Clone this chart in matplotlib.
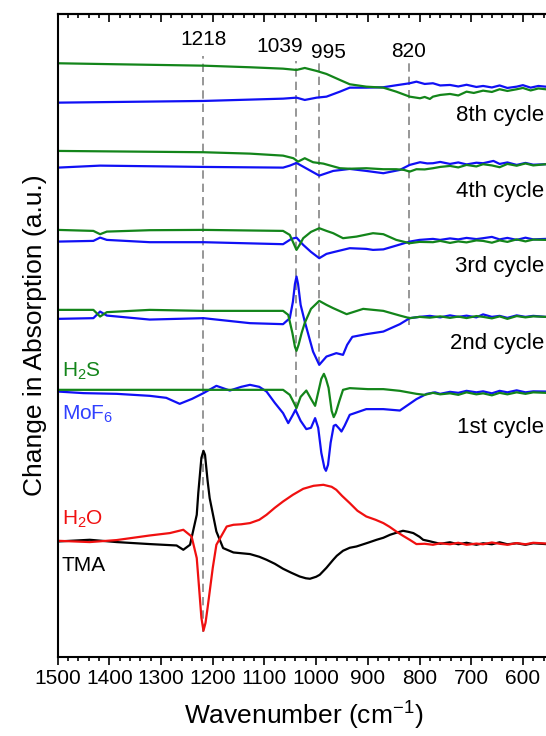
import numpy as np
import matplotlib
matplotlib.use('Agg')
import matplotlib.pyplot as plt
from matplotlib.ticker import MultipleLocator, NullLocator

plt.rcParams['font.family'] = ['Liberation Sans', 'DejaVu Sans']
plt.rcParams['mathtext.default'] = 'regular'

# ---- data (wavenumber in cm-1, change in absorption in a.u.) ----
# 8th cycle
wn_8g = [1500, 1386, 1218, 1128, 1064, 1038, 1022, 999, 980, 954, 935, 903, 870, 845, 819, 799, 790, 780,
         774, 760, 741, 725, 709, 695, 677, 660, 645, 630, 612, 600, 585, 570, 556]
ab_8g = [24.7, 23.7, 22.3, 20.7, 19.3, 18, 20, 17, 14, 8, 3.7, 1.3, 0.3, -3.7, -8.7, -10.3, -9, -11,
         -8.7, -7, -6, -7.5, -3.7, -5, -2.7, -4, -1.3, -3, -1.3, 0, -2.5, -0.5, -1.3]
wn_8b = [1500, 1218, 1064, 1038, 1022, 999, 980, 954, 935, 903, 870, 845, 819, 806, 790, 774, 760, 741,
         725, 709, 690, 677, 660, 645, 630, 612, 600, 585, 570, 556]
ab_8b = [-14.7, -13, -10.7, -9.7, -12, -9.7, -8.7, -3.7, 0.3, 0.3, 0.7, 2.7, 4.7, 6.3, 4, 4.7, 2.5, 3,
         1.5, 3.2, 1, 2, 0.5, 2.5, 0, 1.3, 2.8, 0.3, 2, 1.3]

# 4th cycle
wn_4g = [1500, 1218, 1128, 1064, 1044, 1035, 1022, 1006, 986, 954, 935, 903, 870, 845, 830, 819, 806,
         790, 774, 760, 741, 725, 709, 690, 677, 660, 645, 630, 612, 595, 580, 556]
ab_4g = [13, 11.7, 10.3, 8.3, 5.7, 2.3, 5.7, 1.7, 0.3, -4.3, -4.8, -4.3, -5.3, -5.3, -6, -7.7, -5.3,
         -5.5, -4.3, -3, -2, -3.5, -1, -2.5, -0.3, -1.5, -3.3, 0, -1.8, 0.5, -1.5, -0.3]
wn_4b = [1500, 1418, 1218, 1064, 1051, 1038, 994, 967, 935, 903, 870, 838, 819, 799, 785, 774, 760,
         741, 725, 709, 690, 677, 657, 645, 630, 612, 595, 580, 556]
ab_4b = [-3.7, -1.7, -3, -3.7, -1.7, 1, -11.7, -7, -5, -7, -9.3, -6, -1, 1.7, 0.5, 0.7, 2,
         0, 1.5, -0.5, 1.2, 0.7, 3, 0, 1.5, -1, 1, -0.8, -0.3]

# 3rd cycle
wn_3g = [1500, 1431, 1418, 1405, 1322, 1218, 1064, 1051, 1044, 1038, 1032, 1025, 1010, 994, 980, 967,
         948, 922, 890, 870, 845, 819, 800, 774, 760, 741, 725, 709, 690, 677, 660, 645, 630, 612, 595,
         580, 556]
ab_3g = [10, 9, 5.7, 8.3, 9.7, 10, 9, 5, -3, -10, -5, 1.7, 8, 11.7, 9, 6.7,
         1.7, 3.3, 6.7, 5.7, 0, -3.3, -2, -2.3, -1, -3, -1.5, -2.5, -0.5, -1, -2.8, -0.5, -2, 0.5, -1.5,
         0.3, 0]
wn_3b = [1500, 1431, 1418, 1405, 1322, 1218, 1064, 1048, 1038, 1025, 1010, 994, 980, 967, 935, 903,
         890, 870, 845, 819, 800, 774, 760, 741, 725, 709, 690, 677, 660, 645, 630, 612, 595, 580, 556]
ab_3b = [-1.7, -1, 2.3, 0, -2.3, -2.3, -4.3, 1, 2.3, -5, -12, -18.3, -14, -12.3, -8.3, -9,
         -10, -9.5, -5.7, -1.7, 0, 1, 0, 1.5, 0.5, 2, 0.8, 1.7, 3, 0.5, 2, 0, 2.2, 0.5, 1]

# 2nd cycle
wn_2g = [1500, 1431, 1418, 1405, 1322, 1218, 1064, 1054, 1046, 1041, 1038, 1034, 1028, 1022, 1010, 994,
         980, 967, 941, 909, 870, 838, 819, 800, 780, 760, 741, 725, 709, 690, 677, 660, 645, 630, 612,
         595, 580, 556]
ab_2g = [7, 7, 0.3, 4.7, 7, 6, 6, 2, -16, -30, -34, -28, -16, -6, 8, 16,
         12, 8.7, 2.7, 8, 6, 1.3, -1.3, 0, -0.8, 0.5, -1, 0.3, -1.2, 0.8, 0, -1.5, 0.5, -2, 0.8,
         -0.5, 0.5, 0]
wn_2b = [1500, 1431, 1418, 1405, 1322, 1218, 1128, 1064, 1051, 1045, 1041, 1038, 1035, 1030, 1022, 1006,
         994, 980, 961, 948, 940, 930, 903, 870, 838, 819, 800, 780, 760, 741, 725, 709, 690, 677, 660,
         645, 630, 612, 595, 580, 556]
ab_2b = [-2, -1.3, 5.3, 1.3, -2.7, -1.3, -6.3, -7.3, -1.3, 15, 33, 40.3, 33, 12, -4.7, -34.7,
         -48, -39.7, -36.3, -38, -28, -20, -17.3, -14.7, -7.3, -1.3, 0, 1, -0.5, 1.5, 0, 1.2, -0.5, 2.5, 0,
         1, -1, 1.5, 0, 1, 0]

# 1st cycle
wn_1g = [1500, 1218, 1064, 1051, 1045, 1038, 1030, 1019, 1010, 1002, 994, 990, 985, 981, 976, 970, 966,
         962, 955, 948, 935, 900, 870, 838, 806, 790, 774, 760, 741, 725, 709, 690, 677, 660, 645, 630,
         612, 595, 580, 556]
ab_1g = [3, 3, 3, -2, -8, -15.3, -4, 2.3, -6, -13, 5, 14, 19, 14, 5, -18, -24.3,
         -20, -8, 3, 4.7, 3.7, 3.7, 2, -1, -2, 0, -1.5, -0.5, -2, 0.5, -1.5, -0.5, -2.5, 0, -1.5,
         0.5, -1, 0.5, 0]
wn_1b = [1500, 1450, 1386, 1322, 1290, 1264, 1240, 1218, 1193, 1167, 1145, 1128, 1110, 1096, 1080, 1064,
         1054, 1045, 1040, 1030, 1019, 1010, 1002, 996, 990, 984, 981, 977, 972, 966, 962, 955, 951, 945,
         935, 903, 870, 838, 806, 786, 770, 760, 741, 725, 709, 690, 677, 660, 645, 630, 612, 595, 580,
         556]
ab_1b = [1.3, -0.3, -1, -3, -5, -11, -6, -0.3, 7, 2.3, 6, 8, 6, 1.3, -10, -20.3,
         -30.3, -22, -17, -28, -36.3, -35, -25.3, -35, -60, -75, -78, -72, -50, -33, -32, -36, -38.7, -33,
         -22, -16.3, -16.3, -17.7, -6.3, -1, 0.5, -1, 1, 0, 2, 0.5, 1.5, -0.5, 2, 0.5, 2.5, 0.5, 1.5,
         1.3]

# TMA / H2O half cycle
wn_tma = [1500, 1438, 1386, 1322, 1270, 1257, 1244, 1231, 1228, 1222, 1218, 1215, 1210, 1206, 1193, 1180,
          1160, 1128, 1110, 1096, 1080, 1064, 1048, 1032, 1020, 1012, 1000, 993, 980, 967, 960, 948, 935,
          922, 900, 883, 870, 857, 845, 832, 822, 812, 800, 793, 780, 774, 760, 741, 725, 709, 690, 677,
          660, 645, 630, 612, 595, 580, 556]
ab_tma = [1.3, 3, 0.7, -1.3, -2.7, -7, -2, 28, 50, 85, 92, 88, 62, 44.7, 11.3, -5.3,
          -9.7, -11.3, -14, -17, -21, -26, -30, -33.7, -35.5, -36, -34, -32, -25, -17, -13, -8, -5,
          -3.7, 0, 3, 5, 8, 10, 12, 11, 9.7, 6, 3, 1.5, 0.7, -1, 0.5, -1.5, 0, -2, -0.5,
          -1.5, 0.5, -1.5, -0.5, -2, -0.5, -1.3]
wn_h2o = [1500, 1438, 1386, 1322, 1283, 1257, 1241, 1231, 1228, 1222, 1218, 1214, 1210, 1200, 1193, 1173,
          1160, 1145, 1128, 1110, 1096, 1080, 1064, 1045, 1025, 1005, 986, 970, 961, 950, 935, 920, 903,
          885, 870, 858, 845, 832, 819, 806, 790, 774, 760, 741, 725, 709, 690, 677, 660, 645, 630, 612,
          595, 580, 556]
ab_h2o = [2, 0.7, 2.7, 7.3, 9.7, 13, 6.3, -15.3, -35, -75, -88, -80, -65, -25, -2, 16.3,
          18, 18.5, 19.7, 23, 28, 35, 41.3, 48, 54, 57, 58, 56, 53, 47, 39.7, 32, 26.3,
          23, 19.7, 16, 11.3, 7, 3, -1.3, -1, -2, -0.5, -1.5, 0, -2, -0.8, -1.5, 0.3, -1, -2, -0.3,
          -1.5, 0, -0.7]

cycles = ['8th cycle', '4th cycle', '3rd cycle', '2nd cycle', '1st cycle']
offsets = [569, 493, 417, 340, 264]
offset_half = 114
peaks = [1218, 1039, 995, 820]

green = '#13851a'
blue = '#1010f5'
red = '#f01010'

fig = plt.figure(figsize=(5.46, 7.36), dpi=100)
ax = fig.add_axes([0.1057, 0.1077, 0.8993, 0.8733])

pairs = [(wn_8g, ab_8g, wn_8b, ab_8b), (wn_4g, ab_4g, wn_4b, ab_4b), (wn_3g, ab_3g, wn_3b, ab_3b),
         (wn_2g, ab_2g, wn_2b, ab_2b), (wn_1g, ab_1g, wn_1b, ab_1b)]
for (wg, ag, wb, ab), off in zip(pairs, offsets):
    ax.plot(wb, np.array(ab) + off, color=blue, lw=1.6)
    ax.plot(wg, np.array(ag) + off, color=green, lw=1.6)

ax.plot(wn_tma, np.array(ab_tma) + offset_half, color='black', lw=1.6)
ax.plot(wn_h2o, np.array(ab_h2o) + offset_half, color=red, lw=1.6)

# dashed guide lines
vl_top = [601, 596, 597, 597]
vl_bot = [25, 247, 292, 332]
for p, t, b in zip(peaks, vl_top, vl_bot):
    ax.plot([p, p], [b, t], color='#858585', lw=1.2, dashes=(5, 3), zorder=0)

ax.text(1218, 612, '1218', ha='center', va='baseline', fontsize=15)
ax.text(1070, 605, '1039', ha='center', va='baseline', fontsize=15)
ax.text(976, 599, '995', ha='center', va='baseline', fontsize=15)
ax.text(821, 600, '820', ha='center', va='baseline', fontsize=15)

cyc_y = [536, 460, 385, 308, 224]
for lab, yy in zip(cycles, cyc_y):
    ax.text(559, yy, lab, ha='right', va='baseline', fontsize=16)

ax.text(1492, 280, 'H$_2$S', color=green, ha='left', va='baseline', fontsize=15)
ax.text(1492, 237, 'MoF$_6$', color='#3040ff', ha='left', va='baseline', fontsize=15)
ax.text(1492, 132, 'H$_2$O', color=red, ha='left', va='baseline', fontsize=15)
ax.text(1492, 86, 'TMA', color='black', ha='left', va='baseline', fontsize=15)

ax.set_xlim(1500, 550)
ax.set_ylim(0, 643)
ax.xaxis.set_major_locator(MultipleLocator(100))
ax.xaxis.set_minor_locator(MultipleLocator(20))
ax.yaxis.set_major_locator(NullLocator())
ax.tick_params(axis='x', which='major', direction='out', length=6, width=1.2, labelsize=15, pad=3)
ax.tick_params(axis='x', which='minor', direction='out', length=3, width=1.2)
for s in ax.spines.values():
    s.set_linewidth(1.5)

top = ax.secondary_xaxis('top')
top.xaxis.set_major_locator(MultipleLocator(100))
top.xaxis.set_minor_locator(MultipleLocator(20))
top.tick_params(axis='x', which='major', direction='in', length=6, width=1.2, labeltop=False)
top.tick_params(axis='x', which='minor', direction='in', length=3, width=1.2)
top.spines['top'].set_linewidth(1.5)

ax.set_xlabel('Wavenumber (cm$^{-1}$)', fontsize=19, labelpad=8)
ax.set_ylabel('Change in Absorption (a.u.)', fontsize=19, labelpad=8)

fig.savefig('out.png', dpi=100)
